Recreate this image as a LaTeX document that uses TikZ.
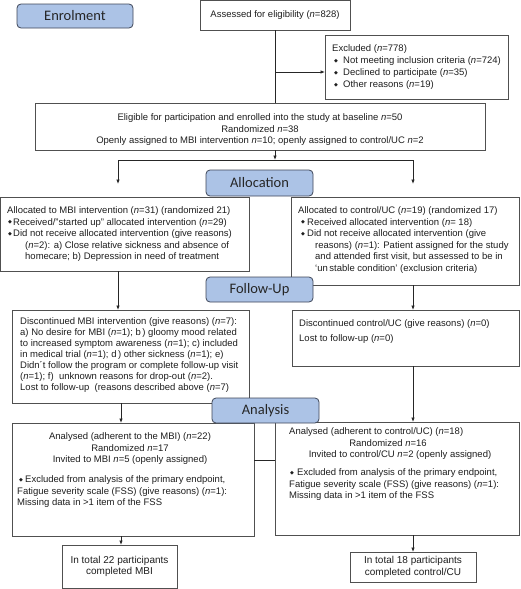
\documentclass[tikz,border=0pt]{standalone}
\usepackage{fontspec}
\setmainfont{Liberation Sans}
\newfontfamily\phasefont{Carlito}
\newfontfamily\symfont{DejaVu Sans}
\usetikzlibrary{arrows.meta}
\definecolor{phasefill}{RGB}{172,195,230}
\definecolor{phasedraw}{RGB}{62,70,88}
\definecolor{boxdraw}{RGB}{80,80,80}
\definecolor{txt}{RGB}{30,30,30}
\newcommand\bul[1][6pt]{\makebox[#1][l]{\raisebox{1.4pt}{\symfont\fontsize{5}{5}\selectfont ◆}}}
\newcommand\nn{\textit{n}}
\begin{document}
\begin{tikzpicture}[x=1pt,y=-1pt,
  box/.style={draw=boxdraw, line width=0.8pt, anchor=north west, inner sep=0pt, outer sep=0pt, text=txt, align=center, font=\fontsize{9.5}{11.5}\selectfont},
  phase/.style={draw=phasedraw, fill=phasefill, line width=0.8pt, rounded corners=4pt, anchor=north west, inner sep=0pt, outer sep=0pt, font=\phasefont\fontsize{14.5}{16}\selectfont, text=black!85},
  tb/.style={anchor=north west, inner sep=0pt, align=left, text=txt, font=\fontsize{9.5}{11.5}\selectfont},
  tc/.style={anchor=north, inner sep=0pt, align=center, text=txt, font=\fontsize{9.5}{11.5}\selectfont},
  arr/.style={-{Latex[length=4.5pt,width=3.6pt]}, draw=black!85, line width=0.8pt},
  ln/.style={draw=black!85, line width=0.8pt}
]
\useasboundingbox (0,0) rectangle (520,589);

% boxes
\node[box, minimum width=150pt, minimum height=29.5pt] (assess) at (200,0.5) {Assessed for eligibility (\nn=828)};
\node[box, minimum width=183pt, minimum height=64pt] (excl) at (325,35) {};
\node[box, minimum width=450pt, minimum height=47pt] (elig) at (35,103) {};
\node[box, minimum width=248.5pt, minimum height=74pt] (allocL) at (0.5,197) {};
\node[box, minimum width=228pt, minimum height=88pt] (allocR) at (291,197) {};
\node[box, minimum width=237pt, minimum height=93pt] (fuL) at (12,310) {};
\node[box, minimum width=227pt, minimum height=56pt] (fuR) at (292,310) {};
\node[box, minimum width=242pt, minimum height=113pt] (anL) at (12,423) {};
\node[box, minimum width=244pt, minimum height=113pt] (anR) at (275,422) {};
\node[box, minimum width=115pt, minimum height=43pt, font=\fontsize{10}{11.5}\selectfont] (compL) at (62,545) {In total 22 participants\\completed MBI};
\node[box, minimum width=126pt, minimum height=30pt, font=\fontsize{10}{12.5}\selectfont] (compR) at (350,552) {In total 18 participants\\completed control/CU};

% texts
\node[tb, font=\fontsize{9.5}{12}\selectfont] (exclT) at (332,43) {\strut Excluded (\nn=778)\\
\hspace*{2pt}\bul[9pt]Not meeting inclusion criteria (\nn=724)\\
\hspace*{2pt}\bul[9pt]Declined to participate (\nn=35)\\
\hspace*{2pt}\bul[9pt]Other reasons (\nn=19)};

\node[tc] (eligT) at (260,112.3) {\strut Eligible for participation and enrolled into the study at baseline \nn=50\\
Randomized \nn=38\\
Openly assigned to MBI intervention \nn=10; openly assigned to control/UC \nn=2};

\node[tb] (allocLT) at (7,205.3) {\strut Allocated to MBI intervention (\nn=31) (randomized 21)\\
\hspace*{1pt}\bul[5pt]Received/"started up" allocated intervention (\nn=29)\\
\hspace*{1pt}\bul[5pt]Did not receive allocated intervention (give reasons)\\
\hspace*{18pt}(\nn=2): a) Close relative sickness and absence of\\
\hspace*{18pt}homecare; b) Depression in need of treatment};

\node[tb] (allocRT) at (298,205.3) {\strut Allocated to control/UC (\nn=19) (randomized 17)\\
\hspace*{3pt}\bul[6pt]Received allocated intervention (\nn= 18)\\
\hspace*{3pt}\bul[6pt]Did not receive allocated intervention (give\\
\hspace*{17pt}reasons) (\nn=1): Patient assigned for the study\\
\hspace*{17pt}and attended first visit, but assessed to be in\\
\hspace*{17pt}‘un\,stable condition’ (exclusion criteria)};

\node[tb, font=\fontsize{9.5}{11}\selectfont] (fuLT) at (20,316.3) {\strut Discontinued MBI intervention (give reasons) (\nn=7):\\
a) No desire for MBI (\nn=1); b\,) gloomy mood related\\
to increased symptom awareness (\nn=1); c) included\\
in medical trial (\nn=1); d\,) other sickness (\nn=1); e)\\
Didn´t follow the program or complete follow-up visit\\
(\nn=1); f)\ \ unknown reasons for drop-out (\nn=2).\\
Lost to follow-up\ \ (reasons described above (\nn=7)};

\node[tb] (fuRT) at (299,318.3) {\strut Discontinued control/UC (give reasons) (\nn=0)\\[3.5pt]
Lost to follow-up (\nn=0)};

\node[tc] (anLT) at (130,431.3) {\strut Analysed (adherent to the MBI) (\nn=22)\\
Randomized \nn=17\\
Invited to MBI \nn=5 (openly assigned)};
\node[tb] (anLB) at (17,474.3) {\strut\hspace*{2pt}\bul[6pt]Excluded from analysis of the primary endpoint,\\
Fatigue severity scale (FSS) (give reasons) (\nn=1):\\
Missing data in >1 item of the FSS};

\node[tb] (anRT1) at (289,426.3) {\strut Analysed (adherent to control/UC) (\nn=18)};
\node[tc] (anRT2) at (388,437.8) {\strut Randomized \nn=16};
\node[tc] (anRT3) at (400,449.3) {\strut Invited to control/CU \nn=2 (openly assigned)};
\node[tb] (anRB) at (289,467.3) {\strut\hspace*{1pt}\bul[7pt]Excluded from analysis of the primary endpoint,\\
Fatigue severity scale (FSS) (give reasons) (\nn=1):\\
Missing data in >1 item of the FSS};

% connector coordinates
\coordinate (br) at (275,72);
\coordinate (split) at (275,160);
\coordinate (splitL) at (118,160);
\coordinate (splitR) at (413,160);
\coordinate (inL) at (118,184);
\coordinate (inR) at (413,184);
\coordinate (colL) at (121,0);
\coordinate (midy) at (0,460);

\draw[ln] (assess.south) -- (assess.south |- elig.north);
\draw[arr] (br) -- (excl.west |- br);
\draw[arr] (elig.south -| split) -- (split);
\draw[ln] (splitL) -- (splitR);
\draw[arr] (splitL) -- (inL);
\draw[arr] (splitR) -- (inR);
\draw[arr] (allocL.south -| inL) -- (fuL.north -| inL);
\draw[arr] (allocR.south -| splitR) -- (fuR.north -| splitR);
\draw[arr] (fuL.south -| colL) -- (anL.north -| colL);
\draw[arr] (fuR.south -| splitR) -- (anR.north -| splitR);
\draw[arr] (anL.south -| colL) -- (compL.north -| colL);
\draw[arr] (anR.south -| splitR) -- (compR.north -| splitR);
\draw[ln] (anL.east |- midy) -- (anR.west |- midy);

% phase labels
\node[phase, minimum width=116pt, minimum height=24pt] (enrol) at (17,4) {Enrolment};
\node[phase, minimum width=107pt, minimum height=26pt] (alloc) at (206,170) {Allocation};
\node[phase, minimum width=107pt, minimum height=25pt] (follow) at (206,277) {Follow-Up};
\node[phase, minimum width=107pt, minimum height=25pt] (analysis) at (212,398) {Analysis};
\end{tikzpicture}
\end{document}
